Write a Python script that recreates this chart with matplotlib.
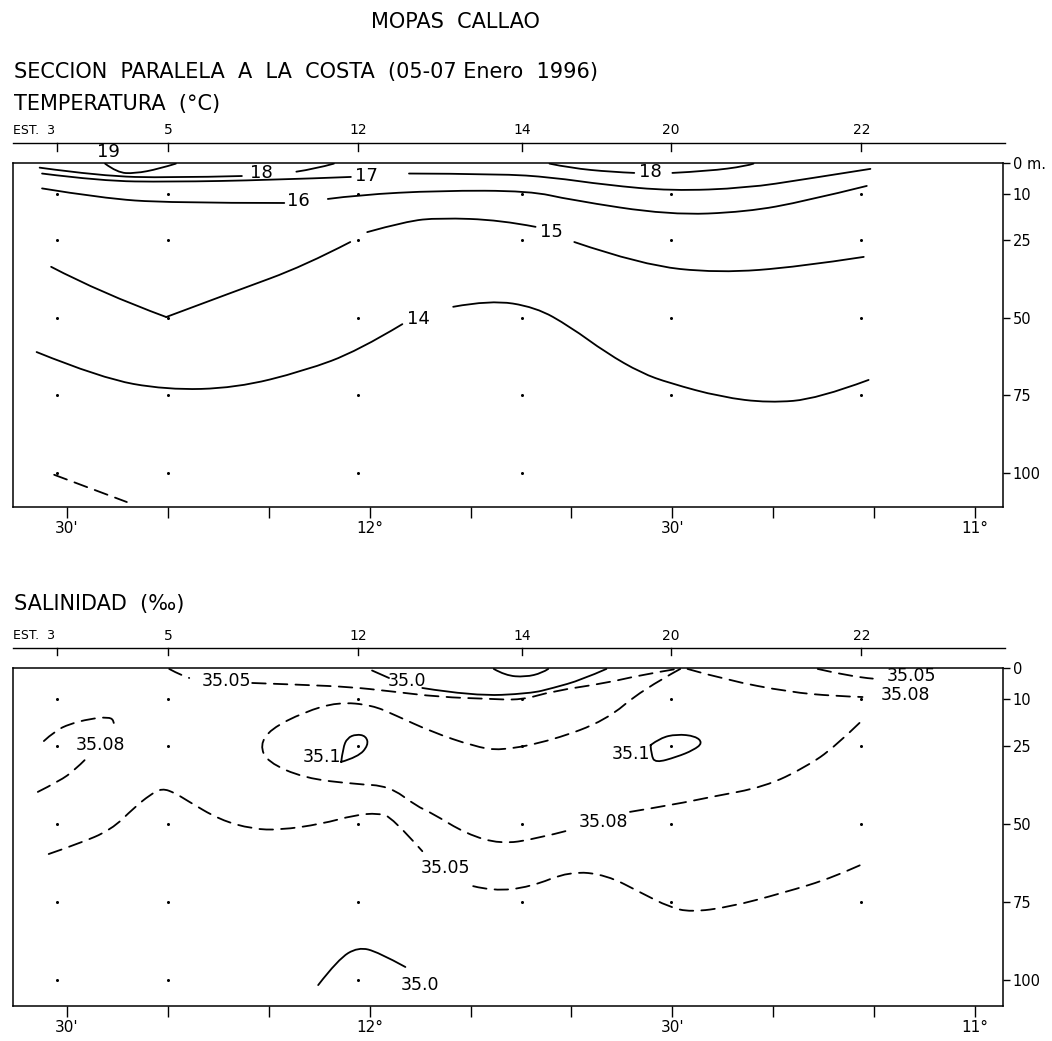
import matplotlib
matplotlib.use("Agg")
import matplotlib.pyplot as plt
from matplotlib.path import Path
from matplotlib.patches import PathPatch

plt.rcParams["font.family"] = ["DejaVu Sans"]

TITLE = "MOPAS  CALLAO"
SUBTITLE = "SECCION  PARALELA  A  LA  COSTA  (05-07 Enero  1996)"
TEMP_TITLE = "TEMPERATURA  (°C)"
SAL_TITLE = "SALINIDAD  (‰)"

# stations along the section (latitude S, decimal degrees)
STATION_NAMES = ["EST.  3", "5", "12", "14", "20", "22"]
STATION_LAT = [12.517, 12.333, 12.019, 11.748, 11.503, 11.188]
SAMPLE_DEPTHS = [10, 25, 50, 75, 100]
TEMP_BOTTOM = [100, 100, 100, 100, 75, 75]
SAL_BOTTOM = [100, 100, 100, 75, 75, 75]

LAT_TICKS = [12.5, 12 + 20 / 60, 12 + 10 / 60, 12.0, 11 + 50 / 60,
             11 + 40 / 60, 11.5, 11 + 20 / 60, 11 + 10 / 60, 11.0]
LAT_LABELS = ["30'", "", "", "12°", "", "", "30'", "", "", "11°"]
DEPTH_TICKS = [0, 10, 25, 50, 75, 100]
TEMP_DEPTH_LABELS = ["0 m.", "10", "25", "50", "75", "100"]
SAL_DEPTH_LABELS = ["0", "10", "25", "50", "75", "100"]

t19 = [[(12.437, 0.2), (12.417, 3.1), (12.388, 3.4), (12.348, 1.9), (12.320, 0.2)]]
t18a = [[(12.545, 1.5), (12.444, 4.2), (12.331, 4.8), (12.211, 4.2)],
        [(12.121, 2.8), (12.090, 1.9), (12.059, 0.2)]]
t18b = [[(11.703, 0.2), (11.669, 1.6), (11.600, 2.9), (11.563, 3.2)],
        [(11.500, 3.2), (11.440, 2.6), (11.378, 1.0), (11.366, 0.2)]]
t17 = [[(12.541, 3.4), (12.444, 5.8), (12.331, 6.1), (12.164, 5.5), (12.031, 4.5)],
       [(11.935, 3.4), (11.784, 3.5), (11.700, 4.6), (11.609, 7.1), (11.502, 9.0),
        (11.378, 8.1), (11.280, 5.2), (11.173, 1.9)]]
t16 = [[(12.541, 8.2), (12.444, 11.3), (12.331, 12.9), (12.141, 12.9)],
       [(12.069, 11.6), (12.019, 10.3), (11.885, 8.9), (11.735, 9.0), (11.669, 11.9),
        (11.505, 16.8), (11.378, 15.8), (11.280, 12.3), (11.179, 7.4)]]
t15 = [[(12.526, 33.5), (12.444, 41.9), (12.336, 49.7)],
       [(12.336, 49.7), (12.221, 41.3), (12.108, 33.2), (12.032, 25.5)],
       [(12.004, 22.3), (11.940, 18.8), (11.885, 17.7), (11.784, 18.4), (11.726, 20.6)],
       [(11.662, 25.5), (11.551, 32.9), (11.424, 35.5), (11.290, 33.5), (11.184, 30.3)]]
t14 = [[(12.550, 61.0), (12.444, 69.4), (12.336, 73.2), (12.221, 72.6), (12.108, 67.1),
        (12.019, 60.6), (11.946, 52.0)],
       [(11.862, 46.4), (11.801, 44.2), (11.726, 46.5), (11.669, 52.8), (11.609, 61.3),
        (11.551, 67.8), (11.505, 71.0), (11.420, 75.5), (11.341, 77.4), (11.260, 76.1),
        (11.176, 70.0)]]
t13 = [[(12.521, 100.6), (12.401, 109.4)]]

TEMP_SOLID = [t19, t18a, t18b, t17, t16, t15, t14]
TEMP_DASHED = [t13]
TEMP_LABELS = [("19", 12.432, -3.5), ("18", 12.179, 3.1), ("18", 11.536, 2.8),
               ("17", 12.006, 4.2), ("16", 12.117, 12.3), ("15", 11.700, 22.2),
               ("14", 11.920, 50.2)]

# isohalines
s350_top = [[(11.996, 0.8), (11.968, 3.2)],
            [(11.913, 6.4), (11.829, 9.0), (11.735, 8.2), (11.697, 6.4), (11.650, 3.8),
             (11.609, 0.3)]]
s350_lens = [[(11.795, 0.3), (11.776, 2.4), (11.743, 2.9), (11.715, 1.6), (11.705, 0.3)]]
s350_deep = [[(12.085, 101.6), (12.052, 93.3), (12.019, 89.4), (11.986, 91.0), (11.941, 95.8)]]
s351_a = [[(12.047, 30.1), (12.019, 28.5), (12.002, 24.7), (12.006, 21.8), (12.022, 21.2),
           (12.037, 22.4), (12.044, 25.6), (12.047, 30.1)]]
s351_b = [[(11.536, 24.7), (11.520, 22.4), (11.493, 21.2), (11.462, 21.8), (11.450, 24.0),
           (11.465, 26.3), (11.493, 28.5), (11.528, 30.4), (11.535, 27.9), (11.536, 24.7)]]
s3505_top = [[(12.331, 0.3), (12.310, 2.5), (12.298, 3.2)],
             [(12.194, 4.8), (12.108, 5.4), (12.031, 6.1), (11.968, 7.4), (11.885, 9.3),
              (11.801, 9.9), (11.750, 10.3), (11.697, 7.4), (11.609, 4.8), (11.551, 2.2),
              (11.493, 0.3)]]
s3505_right = [[(11.260, 0.3), (11.202, 2.9), (11.169, 3.4)]]
s3508_right = [[(11.475, 0.3), (11.412, 3.8), (11.307, 7.7), (11.232, 9.0), (11.186, 9.3)]]
s3508_main = [[(11.487, 0.3), (11.551, 7.1), (11.609, 16.7), (11.697, 23.1), (11.784, 26.6),
               (11.829, 25.0), (11.897, 20.5), (11.958, 15.1), (11.996, 11.9), (12.052, 10.9),
               (12.108, 14.1), (12.164, 19.6), (12.181, 24.7), (12.169, 30.1), (12.108, 35.3),
               (12.024, 37.2), (11.968, 37.8), (11.923, 44.2), (11.897, 46.5), (11.840, 53.2),
               (11.784, 56.4), (11.726, 54.8), (11.669, 51.9)],
              [(11.570, 46.1), (11.493, 43.6), (11.436, 41.3), (11.348, 38.1), (11.279, 31.7),
               (11.232, 25.3), (11.191, 17.6)]]
s3508_left = [[(12.548, 39.7), (12.512, 36.2), (12.487, 32.7), (12.469, 29.2)],
              [(12.538, 23.4), (12.520, 20.2), (12.495, 17.9), (12.462, 16.3), (12.432, 15.7),
               (12.422, 16.7), (12.422, 18.6)]]
s3505_low = [[(12.530, 59.6), (12.482, 56.4), (12.427, 51.9), (12.388, 44.6), (12.363, 40.7),
              (12.343, 38.5), (12.321, 40.1), (12.303, 42.3), (12.247, 48.7), (12.193, 51.6),
              (12.148, 51.9), (12.080, 50.0), (12.024, 47.1), (11.986, 46.5), (11.963, 47.8),
              (11.913, 58.7)],
             [(11.829, 69.9), (11.796, 71.5), (11.735, 70.2), (11.669, 65.1), (11.609, 66.3),
              (11.551, 72.1), (11.505, 76.6), (11.470, 78.2), (11.406, 76.6), (11.318, 72.1),
              (11.232, 67.0), (11.179, 62.2)]]

SAL_SOLID = [s350_top, s350_lens, s350_deep, s351_a, s351_b]
SAL_DASHED = [s3505_top, s3505_right, s3508_right, s3508_main, s3508_left, s3505_low]
SAL_LABELS = [("35.05", 12.236, 4.3), ("35.0", 11.938, 4.3), ("35.05", 11.105, 2.7),
              ("35.08", 11.115, 8.7), ("35.08", 12.445, 24.8), ("35.1", 12.079, 28.5),
              ("35.1", 11.569, 27.4), ("35.08", 11.614, 49.2), ("35.05", 11.875, 64.0),
              ("35.0", 11.917, 101.6)]

XLIM = (12.589, 10.954)
LINE_END = 10.951


def smooth_path(seg):
    # quadratic Bezier through the midpoints, so hand-drawn isolines stay rounded
    verts = [seg[0]]
    codes = [Path.MOVETO]
    if len(seg) > 2:
        for i in range(1, len(seg) - 1):
            mid = ((seg[i][0] + seg[i + 1][0]) / 2, (seg[i][1] + seg[i + 1][1]) / 2)
            if i == len(seg) - 2:
                mid = seg[-1]
            verts += [seg[i], mid]
            codes += [Path.CURVE3, Path.CURVE3]
    else:
        verts.append(seg[1])
        codes.append(Path.LINETO)
    return Path(verts, codes)


def draw_lines(ax, groups, dashed=False):
    ls = (0, (7.5, 4.5)) if dashed else "-"
    for group in groups:
        for seg in group:
            ax.add_patch(PathPatch(smooth_path(seg), fill=False, edgecolor="k",
                                   lw=1.3, linestyle=ls, capstyle="round"))


def setup_panel(ax, ymax, depth_labels, top_offset):
    ax.set_xlim(*XLIM)
    ax.set_ylim(ymax, 0)
    for sp in ax.spines.values():
        sp.set_linewidth(1.1)
    ax.yaxis.tick_right()
    ax.set_yticks(DEPTH_TICKS)
    ax.set_yticklabels(depth_labels)
    ax.tick_params(axis="y", direction="out", length=5, width=1, labelsize=10.5, pad=2)
    ax.set_xticks(LAT_TICKS)
    ax.set_xticklabels(LAT_LABELS)
    ax.tick_params(axis="x", direction="out", length=8, width=1, labelsize=11, pad=2)

    # station line above the box
    tr = ax.get_xaxis_transform()
    ax.plot([XLIM[0], LINE_END], [top_offset, top_offset], color="k", lw=1,
            transform=tr, clip_on=False)
    for lat, name in zip(STATION_LAT, STATION_NAMES):
        ax.plot([lat, lat], [top_offset, top_offset - 0.022], color="k", lw=1,
                transform=tr, clip_on=False)
        if name.startswith("EST"):
            ax.text(0.0, top_offset + 0.037, name, transform=ax.transAxes,
                    ha="left", va="center", fontsize=9)
        else:
            ax.text(lat, top_offset + 0.037, name, transform=tr,
                    ha="center", va="center", fontsize=10)


def draw_dots(ax, bottoms):
    for lat, bot in zip(STATION_LAT, bottoms):
        deps = [d for d in SAMPLE_DEPTHS if d <= bot]
        ax.plot([lat] * len(deps), deps, "o", color="k", ms=2.2, mew=0)


fig = plt.figure(figsize=(10.52, 10.41), dpi=100)
ax_t = fig.add_axes([13 / 1052, 1 - 507 / 1041, 990 / 1052, 344 / 1041])
ax_s = fig.add_axes([13 / 1052, 1 - 1006 / 1041, 990 / 1052, 338 / 1041])

setup_panel(ax_t, 111.0, TEMP_DEPTH_LABELS, 1.058)
setup_panel(ax_s, 108.3, SAL_DEPTH_LABELS, 1.059)

draw_dots(ax_t, TEMP_BOTTOM)
draw_dots(ax_s, SAL_BOTTOM)

draw_lines(ax_t, TEMP_SOLID)
draw_lines(ax_t, TEMP_DASHED, dashed=True)
for txt, lat, dep in TEMP_LABELS:
    ax_t.text(lat, dep, txt, ha="center", va="center", fontsize=13)

draw_lines(ax_s, SAL_SOLID)
draw_lines(ax_s, SAL_DASHED, dashed=True)
for txt, lat, dep in SAL_LABELS:
    ax_s.text(lat, dep, txt, ha="center", va="center", fontsize=12.5)

fig.text(455 / 1052, 1 - 22 / 1041, TITLE, ha="center", va="center", fontsize=15)
fig.text(14 / 1052, 1 - 72 / 1041, SUBTITLE, ha="left", va="center", fontsize=15)
fig.text(14 / 1052, 1 - 104 / 1041, TEMP_TITLE, ha="left", va="center", fontsize=15)
fig.text(14 / 1052, 1 - 604 / 1041, SAL_TITLE, ha="left", va="center", fontsize=15)

fig.savefig("out.png", dpi=100)
